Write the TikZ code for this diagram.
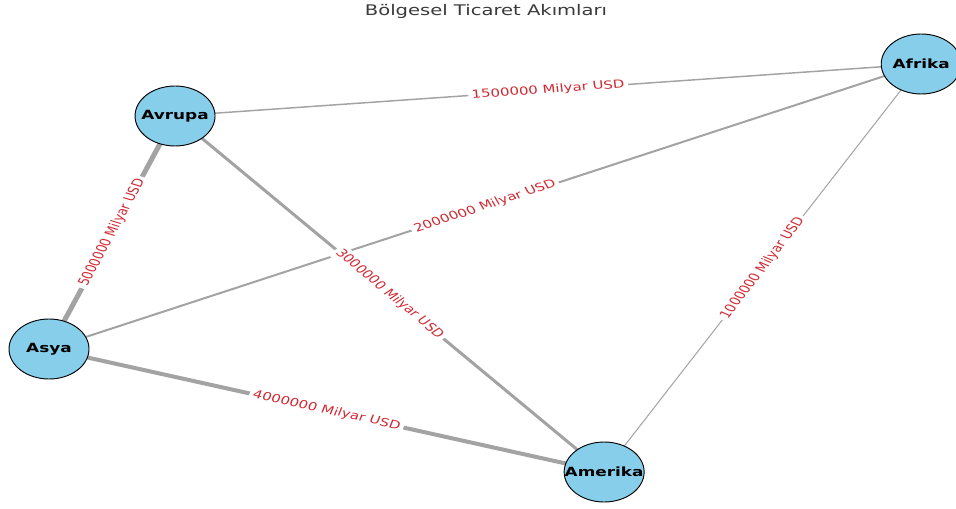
\documentclass[tikz,border=0pt]{standalone}
\usepackage{fontspec}
\setmainfont{DejaVu Sans}
\definecolor{nodefill}{HTML}{87CEEB}
\definecolor{edgegray}{HTML}{A3A3A3}
\definecolor{labelred}{HTML}{D02A33}
\definecolor{titlegray}{HTML}{3A3A3A}
\tikzset{
  region/.style={circle, draw=black, line width=0.7pt, fill=nodefill,
    minimum size=45pt, inner sep=0pt, font=\bfseries\fontsize{9.5}{11}\selectfont},
  flow/.style={draw=edgegray},
  elabel/.style={text=labelred, fill=white, rounded corners=2pt, inner sep=2pt,
    font=\fontsize{8.4}{10}\selectfont},
  titletext/.style={text=titlegray, font=\fontsize{11}{13}\selectfont}
}
\begin{document}
\begin{tikzpicture}[x=0.5625pt, y=-0.75pt, xscale=4/3, transform shape]
\useasboundingbox (0,0) rectangle (956,509);
\clip (0,0) rectangle (956,509);
\fill[white] (0,0) rectangle (956,509);
% node centres (px)
\coordinate (pV) at (175,116);
\coordinate (pF) at (921,64);
\coordinate (pS) at (49,349);
\coordinate (pM) at (604,472);
% edges
\draw[flow, line width=1.1pt]  (pV) -- (pF);
\draw[flow, line width=1.5pt]  (pS) -- (pF);
\draw[flow, line width=2.25pt] (pV) -- (pM);
\draw[flow, line width=3pt]    (pS) -- (pM);
\draw[flow, line width=3.75pt] (pS) -- (pV);
\draw[flow, line width=0.75pt] (pM) -- (pF);
% edge labels
\path (pV) -- node[elabel, rotate=5.31]  (l1) {1500000 Milyar USD} (pF);
\path (pS) -- node[elabel, rotate=23.55] (l2) {2000000 Milyar USD} (pF);
\path (pV) -- node[elabel, rotate=-47.97] (l3) {3000000 Milyar USD} (pM);
\path (pS) -- node[elabel, rotate=-16.46] (l4) {4000000 Milyar USD} (pM);
\path (pS) -- node[elabel, rotate=67.92] (l5) {5000000 Milyar USD} (pV);
\path (pM) -- node[elabel, rotate=59.83] (l6) {1000000 Milyar USD} (pF);
% nodes
\node[region] (avrupa) at (pV) {Avrupa};
\node[region] (afrika) at (pF) {Afrika};
\node[region] (asya) at (pS) {Asya};
\node[region] (amerika) at (pM) {Amerika};
% title
\node[titletext] (title) at (486,11) {Bölgesel Ticaret Akımları};
\end{tikzpicture}
\end{document}
